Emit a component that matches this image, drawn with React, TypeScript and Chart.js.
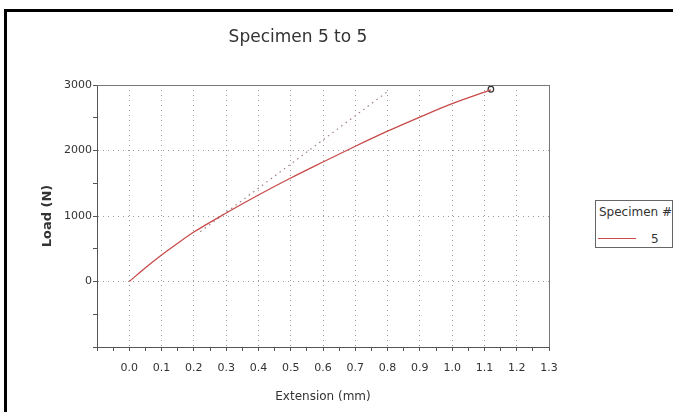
import React, { useEffect, useRef } from 'react';
import { Chart, registerables } from 'chart.js';

Chart.register(...registerables);

// ---- data ----
const chartTitle = 'Specimen 5 to 5';
const xAxisTitle = 'Extension (mm)';
const yAxisTitle = 'Load (N)';
const legendTitle = 'Specimen #';
const seriesLabel = '5';

const extension = [0, 0.05, 0.1, 0.15, 0.2, 0.3, 0.4, 0.5, 0.6, 0.7, 0.8, 0.9, 1.0, 1.12];
const load = [0, 210, 405, 585, 755, 1045, 1320, 1580, 1825, 2065, 2295, 2510, 2715, 2925];

const fitExtension = [0.22, 0.8];
const fitLoad = [760, 2900];

const breakExtension = [1.12];
const breakLoad = [2935];

const xMin = -0.1;
const xMax = 1.3;
const xStep = 0.05;
const yMin = -1000;
const yMax = 3000;
const yStep = 500;

const FONT = '"DejaVu Sans", Verdana, sans-serif';
const RED = '#c94a4a';

const isMajorX = (v: any) => {
  if (typeof v !== 'number') return false;
  return Math.abs(v * 10 - Math.round(v * 10)) < 1e-6;
};
const isMajorY = (v: any) => {
  if (typeof v !== 'number') return false;
  return Math.abs(v / 1000 - Math.round(v / 1000)) < 1e-6;
};

const framePlugin = {
  id: 'frameAndTitle',
  afterDraw(chart: any) {
    const { ctx, chartArea: a } = chart;
    ctx.save();
    ctx.strokeStyle = '#777';
    ctx.lineWidth = 1;
    ctx.setLineDash([]);
    ctx.beginPath();
    ctx.moveTo(a.left, Math.round(a.top) + 0.5);
    ctx.lineTo(Math.round(a.right) + 0.5, Math.round(a.top) + 0.5);
    ctx.lineTo(Math.round(a.right) + 0.5, a.bottom);
    ctx.stroke();
    ctx.font = `17px ${FONT}`;
    ctx.fillStyle = '#333';
    ctx.textAlign = 'center';
    ctx.textBaseline = 'middle';
    ctx.fillText(chartTitle, 298, 38);
    ctx.restore();
  },
};

function ChartCanvas() {
  const ref = useRef<HTMLCanvasElement | null>(null);
  useEffect(() => {
    if (!ref.current) return;
    const chart = new Chart(ref.current, {
      type: 'line',
      data: {
        datasets: [
          {
            label: seriesLabel,
            data: extension.map((x, i) => ({ x, y: load[i] })),
            borderColor: RED,
            borderWidth: 1.3,
            pointRadius: 0,
            tension: 0.3,
            cubicInterpolationMode: 'monotone',
            fill: false,
          },
          {
            label: 'fit',
            data: fitExtension.map((x, i) => ({ x, y: fitLoad[i] })),
            borderColor: '#a08080',
            borderWidth: 1.2,
            borderDash: [1.5, 4],
            pointRadius: 0,
            fill: false,
          },
          {
            label: 'break',
            data: breakExtension.map((x, i) => ({ x, y: breakLoad[i] })),
            showLine: false,
            pointStyle: 'circle',
            pointRadius: 2.8,
            pointBorderColor: '#333',
            pointBackgroundColor: 'rgba(0,0,0,0)',
            pointBorderWidth: 1.2,
          },
        ],
      },
      options: {
        responsive: false,
        animation: false,
        layout: { padding: { left: 0, top: 85, right: 124, bottom: 0 } },
        plugins: {
          legend: { display: false },
          title: { display: false },
          tooltip: { enabled: false },
        },
        scales: {
          x: {
            type: 'linear',
            min: xMin,
            max: xMax,
            ticks: {
              stepSize: xStep,
              autoSkip: false,
              maxRotation: 0,
              padding: 11,
              color: '#333',
              font: { family: FONT, size: 11 },
              callback: (v: any) => (isMajorX(v) && v > -0.001 ? Number(v).toFixed(1) : ''),
            },
            grid: {
              color: (c: any) => (c.tick && isMajorX(c.tick.value) ? '#9a9a9a' : 'rgba(0,0,0,0)'),
              tickColor: '#555',
              tickLength: 4,
              tickBorderDash: [],
              lineWidth: 1,
            },
            border: { display: true, color: '#555', width: 1, dash: [1, 4] },
            title: {
              display: true,
              text: xAxisTitle,
              color: '#333',
              font: { family: FONT, size: 12 },
              padding: { top: 0, bottom: 8 },
            },
            afterFit: (s: any) => {
              s.height = 65;
            },
          },
          y: {
            type: 'linear',
            min: yMin,
            max: yMax,
            ticks: {
              stepSize: yStep,
              autoSkip: false,
              padding: 1,
              color: '#333',
              font: { family: FONT, size: 11 },
              callback: (v: any) => (isMajorY(v) && v >= 0 ? String(v) : ''),
            },
            grid: {
              color: (c: any) => (c.tick && isMajorY(c.tick.value) ? '#9a9a9a' : 'rgba(0,0,0,0)'),
              tickColor: '#555',
              tickLength: 4,
              tickBorderDash: [],
              lineWidth: 1,
            },
            border: { display: true, color: '#555', width: 1, dash: [1, 4] },
            title: {
              display: true,
              text: yAxisTitle,
              color: '#333',
              font: { family: FONT, size: 13, weight: 'bold' },
              padding: { top: 40, bottom: 0 },
            },
            afterFit: (s: any) => {
              s.width = 97;
            },
          },
        },
      } as any,
      plugins: [framePlugin],
    });
    return () => chart.destroy();
  }, []);
  return <canvas ref={ref} width={673} height={412} style={{ display: 'block', width: 673, height: 412 }} />;
}

export default function App() {
  return (
    <div style={{ position: 'absolute', left: 0, top: 0, width: 673, height: 412, background: '#fff', overflow: 'hidden' }}>
      <ChartCanvas />
      <div
        style={{
          position: 'absolute',
          left: 4,
          top: 9,
          width: 680,
          height: 420,
          borderTop: '3px solid #000',
          borderLeft: '3px solid #000',
          pointerEvents: 'none',
        }}
      />
      <div
        style={{
          position: 'absolute',
          left: 595,
          top: 200,
          width: 76,
          height: 46,
          border: '1px solid #666',
          background: '#fff',
          fontFamily: FONT,
          fontSize: 12,
          color: '#333',
        }}
      >
        <div style={{ position: 'absolute', left: 3, top: 4, whiteSpace: 'nowrap', lineHeight: '14px' }}>{legendTitle}</div>
        <div style={{ position: 'absolute', left: 2, top: 37, width: 38, height: 0, borderTop: `1px solid ${RED}` }} />
        <div style={{ position: 'absolute', left: 55, top: 31, lineHeight: '14px' }}>{seriesLabel}</div>
      </div>
    </div>
  );
}
